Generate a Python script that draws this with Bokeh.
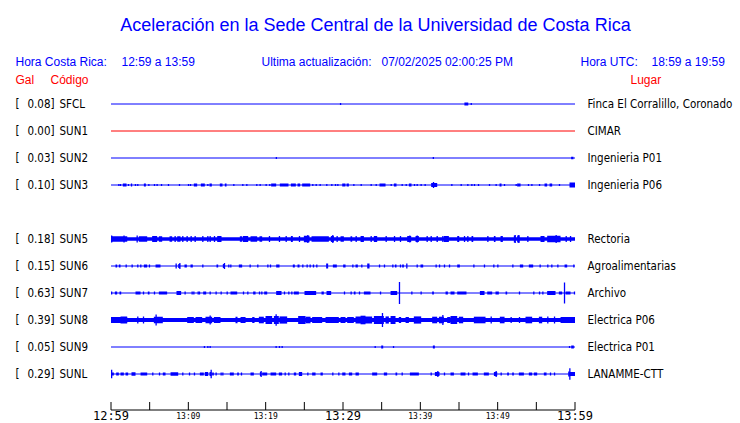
from bokeh.plotting import figure
from bokeh.models import Range1d
from bokeh.core.properties import value
from bokeh.embed import file_html
from bokeh.resources import INLINE

# ------------------------------------------------------------------ data
titulo = "Aceleración en la Sede Central de la Universidad de Costa Rica"
hora_cr = "12:59 a 13:59"
hora_utc = "18:59 a 19:59"
ultima = "07/02/2025 02:00:25 PM"

codigos = ["SFCL", "SUN1", "SUN2", "SUN3", "SUN5", "SUN6", "SUN7", "SUN8", "SUN9", "SUNL"]
slots = [0, 1, 2, 3, 5, 6, 7, 8, 9, 10]          # SUN4 slot left empty
gal = [0.08, 0.00, 0.03, 0.10, 0.18, 0.15, 0.63, 0.39, 0.05, 0.29]
lugares = ["Finca El Corralillo, Coronado", "CIMAR", "Ingenieria P01", "Ingenieria P06",
           "Rectoria", "Agroalimentarias", "Archivo", "Electrica P06", "Electrica P01",
           "LANAMME-CTT"]
colores = ["#0000FF", "#FF0000", "#0000FF", "#0000FF", "#0000FF",
           "#0000FF", "#0000FF", "#0000FF", "#0000FF", "#0000FF"]
ruido_base = [0, 0, 0, 0, 1.8, 0, 0, 2.1, 0, 0]  # background noise half-amplitude (counts)

tick_min = [0, 5, 10, 15, 20, 25, 30, 35, 40, 45, 50, 55, 60]   # minutes after 12:59
big_tick_min = [0, 30, 60]
big_tick_txt = ["12:59", "13:29", "13:59"]
small_tick_min = [10, 20, 40, 50]
small_tick_txt = ["13:09", "13:19", "13:39", "13:49"]

# bursts: (start minute, end minute, half amplitude in counts)
sfcl = [(29.6, 29.6, 1.0), (45.7, 46.2, 1.5), (46.5, 46.5, 1.0)]
sun1 = []
sun2 = [(21.3, 21.3, 1.0), (41.6, 41.6, 1.0), (59.5, 59.8, 1.2)]
sun3 = [(0.93, 0.93, 1), (1.14, 1.14, 1), (1.53, 2.01, 1.5), (2.18, 2.18, 1), (2.57, 2.74, 1.5),
        (3.08, 3.08, 1), (3.38, 3.47, 1), (4.25, 4.51, 1.5), (4.81, 4.81, 1), (5.54, 5.54, 1),
        (5.88, 5.88, 1), (6.45, 6.45, 1), (7.35, 7.35, 1), (8.77, 8.77, 1), (9.94, 9.94, 1),
        (10.2, 10.2, 1), (10.71, 11.14, 1.5), (11.62, 12.13, 1.5), (12.44, 12.44, 1),
        (12.74, 13.04, 1.5), (14.07, 14.42, 1.5), (14.72, 14.94, 1.5), (15.8, 15.8, 1),
        (16.96, 16.96, 1), (17.48, 17.48, 1), (18.77, 18.77, 1), (19.2, 19.2, 1),
        (19.98, 19.98, 1), (20.45, 20.45, 1), (20.71, 21.36, 1.5), (21.83, 22.95, 1.5),
        (23.26, 23.9, 1.5), (24.12, 24.46, 1.5), (24.72, 25.76, 1.5), (26.01, 26.01, 1),
        (26.45, 26.45, 1), (26.96, 26.96, 1), (27.82, 27.82, 1), (28.47, 28.47, 1),
        (28.95, 28.95, 1), (29.25, 29.25, 1), (29.9, 30.32, 1.5), (30.46, 30.76, 1.5),
        (31.32, 31.32, 1), (32.27, 32.27, 1), (33.56, 33.56, 1), (34.21, 34.21, 1),
        (34.72, 35.5, 1.5), (36.15, 36.15, 1), (36.58, 36.92, 1.5), (37.57, 37.57, 1),
        (38.09, 38.09, 1), (38.52, 38.86, 1.5), (39.16, 39.16, 1), (39.51, 39.51, 1),
        (40.02, 40.02, 1), (40.54, 40.54, 1), (41.4, 42.18, 2), (41.62, 41.62, 3),
        (43.99, 43.99, 1), (45.2, 45.2, 1), (46.06, 46.06, 1), (46.58, 46.58, 1),
        (46.92, 46.92, 1), (47.44, 47.44, 1), (48.86, 48.86, 1), (49.72, 49.72, 1),
        (50.24, 50.5, 1.5), (50.8, 50.8, 1), (52.31, 52.31, 1), (52.52, 52.96, 1.5),
        (53.9, 53.9, 1), (54.34, 54.34, 1), (55.33, 55.33, 1), (56.06, 56.4, 1.5),
        (56.71, 57.05, 1.5), (57.91, 57.91, 1), (59.29, 60.0, 2.5)]
sun5 = [(0.0, 0.15, 3), (0.0, 2.1, 2.8), (0.0, 0.0, 3.5), (1.6, 1.6, 3.5), (3.3, 3.3, 3.5),
        (3.6, 4.68, 2.8), (5.32, 5.97, 3), (6.19, 6.62, 2.8), (7.57, 7.91, 2.8), (8.21, 8.21, 3),
        (8.56, 8.99, 2.8), (9.2, 9.2, 3), (9.76, 9.76, 3), (10.28, 10.28, 3), (10.8, 10.8, 3),
        (11.79, 11.79, 3), (12.44, 12.44, 3), (12.74, 12.74, 3), (13.3, 13.3, 3),
        (13.73, 14.29, 3), (16.66, 16.96, 2.8), (17.05, 17.74, 3), (18.04, 18.9, 2.8),
        (19.2, 19.55, 2.8), (20.41, 20.41, 3), (21.7, 21.7, 3), (22.57, 22.57, 3),
        (23.26, 23.51, 3), (24.29, 24.29, 3), (24.94, 25.67, 3.2), (25.37, 25.37, 4),
        (25.93, 28.17, 2.8), (28.43, 28.82, 3), (28.6, 28.6, 4), (29.16, 29.16, 3),
        (29.68, 30.11, 2.8), (30.97, 31.19, 2.8), (31.62, 31.62, 3), (32.27, 32.7, 3),
        (33.56, 33.56, 3), (33.99, 34.42, 3), (35.5, 35.5, 3), (36.58, 36.58, 3),
        (37.35, 37.35, 3), (38.3, 38.82, 3), (38.56, 38.56, 3.5), (39.38, 39.81, 3),
        (39.51, 39.51, 3.5), (40.8, 40.8, 3), (41.32, 41.32, 3), (42.09, 42.27, 3),
        (42.83, 42.83, 3), (43.04, 43.69, 3), (44.77, 45.03, 3), (45.63, 45.63, 3),
        (46.06, 46.06, 3), (46.62, 46.84, 3), (48.65, 48.65, 3), (49.51, 49.72, 3),
        (50.37, 50.67, 3), (52.09, 52.31, 3.5), (52.18, 52.18, 4), (52.52, 52.83, 3.5),
        (52.65, 52.65, 4), (53.82, 53.82, 3), (55.54, 56.06, 3), (56.4, 58.13, 3.3),
        (57.48, 57.48, 4), (58.78, 58.78, 3), (59.34, 59.51, 3)]
sun6 = [(0.58, 0.8, 1.5), (1.01, 1.23, 1.5), (1.88, 1.88, 1.5), (2.65, 2.65, 1.5),
        (3.38, 3.38, 1.5), (3.77, 3.77, 1.5), (4.25, 4.68, 1.5), (4.89, 4.89, 1.5),
        (5.76, 6.4, 1.5), (8.34, 8.51, 2.5), (8.69, 8.94, 2), (8.82, 8.82, 3), (9.5, 9.81, 1.5),
        (10.28, 10.58, 1.5), (11.79, 11.79, 1.5), (13.64, 13.86, 1.5), (14.46, 14.72, 2),
        (14.59, 14.59, 3), (15.15, 15.15, 1.5), (15.41, 15.41, 1.5), (16.53, 16.96, 1.5),
        (17.91, 17.91, 1.5), (18.9, 18.9, 1.5), (20.2, 20.2, 1.5), (20.54, 20.54, 1.5),
        (21.36, 21.79, 1.5), (23.51, 23.77, 1.5), (24.12, 24.38, 1.5), (24.72, 24.72, 1.5),
        (25.28, 25.28, 1.5), (25.67, 25.67, 1.5), (26.1, 26.1, 1.5), (26.53, 26.53, 1.5),
        (27.82, 28.08, 2.5), (28.69, 29.2, 1.5), (30.02, 30.33, 1.5), (31.19, 31.19, 1.5),
        (31.62, 31.92, 1.5), (32.35, 32.35, 1.5), (33.13, 33.43, 2.5), (34.64, 34.64, 1.5),
        (35.28, 35.28, 1.5), (36.36, 36.36, 1.5), (36.71, 36.92, 1.5), (37.35, 37.35, 1.5),
        (37.65, 37.87, 1.5), (38.17, 38.17, 2.5), (39.51, 39.51, 1.5), (40.02, 40.37, 1.5),
        (41.96, 41.96, 1.5), (42.4, 42.4, 1.5), (43.04, 43.04, 1.5), (43.69, 43.69, 1.5),
        (44.77, 45.11, 1.5), (46.84, 46.84, 1.5), (48.21, 48.21, 1.5), (49.42, 49.42, 1.5),
        (49.94, 49.94, 1.5), (51.88, 51.88, 1.5), (52.87, 53.3, 1.5), (54.03, 54.59, 1.5),
        (55.41, 55.41, 1.5), (56.4, 56.4, 1.5), (56.92, 56.92, 1.5), (57.7, 57.7, 1.5),
        (58.65, 58.99, 1.5), (59.77, 59.77, 1.5)]
sun7 = [(0.0, 0.15, 1.5), (0.5, 0.8, 1.5), (1.1, 1.32, 1.5), (3.17, 3.82, 1.5), (4.12, 4.12, 1.5),
        (4.76, 4.98, 1.5), (5.54, 5.54, 1.5), (6.19, 7.26, 1.5), (8.47, 9.07, 2), (9.5, 9.5, 1.5),
        (10.41, 10.41, 1.5), (10.63, 10.63, 1.5), (11.19, 11.19, 1.5), (11.36, 11.36, 1.5),
        (11.92, 12.31, 1.5), (12.74, 12.74, 1.5), (13.51, 13.51, 1.5), (14.16, 14.16, 1.5),
        (14.94, 15.07, 1.5), (15.45, 16.32, 1.5), (17.05, 17.05, 1.5), (17.61, 17.61, 1.5),
        (18.38, 18.69, 1.5), (19.12, 19.12, 1.5), (19.42, 19.42, 1.5), (19.81, 20.2, 1.5),
        (21.36, 22.05, 2), (22.35, 22.35, 1.5), (22.91, 22.91, 1.5), (23.3, 23.3, 1.5),
        (23.64, 24.29, 1.5), (25.02, 26.53, 2), (27.22, 27.52, 1.5), (27.87, 28.47, 2),
        (30.11, 30.11, 1.5), (30.97, 30.97, 1.5), (31.4, 31.62, 1.5), (32.05, 32.05, 1.5),
        (32.7, 33.56, 1.5), (34.77, 34.77, 1.5), (36.15, 37.01, 2), (37.22, 37.22, 11),
        (38.82, 38.82, 1.5), (40.02, 40.02, 1.5), (41.53, 41.75, 1.5), (43.26, 43.56, 1.5),
        (43.9, 44.42, 1.5), (44.77, 45.97, 1.5), (47.7, 48.3, 2), (48.65, 49.29, 1.5),
        (49.72, 50.15, 1.5), (51.02, 51.23, 1.5), (52.74, 52.74, 1.5), (54.59, 54.59, 1.5),
        (55.33, 55.33, 1.5), (55.76, 55.76, 1.5), (56.4, 57.48, 2), (57.91, 58.34, 1.5),
        (58.56, 58.56, 10.5), (58.78, 59.42, 1.5), (59.85, 59.85, 1.5)]
sun8 = [(0.0, 2.09, 3), (1.23, 2.09, 3.5), (3.38, 3.38, 3.5), (4.12, 4.12, 3.5), (5.54, 6.7, 3.3),
        (5.75, 5.75, 5.5), (9.85, 10.71, 3), (10.93, 11.79, 3), (12.22, 13.08, 3.2),
        (12.74, 12.74, 4.5), (13.3, 14.16, 3), (16.1, 16.36, 3.3), (16.75, 17.4, 3),
        (18.26, 18.56, 3), (19.12, 19.76, 3.3), (19.98, 20.84, 4), (21.06, 21.7, 4),
        (21.27, 21.27, 5.7), (21.79, 22.78, 3.6), (24.2, 25.15, 4), (25.15, 25.8, 3.3),
        (26.01, 27.31, 3), (27.74, 29.46, 3), (29.68, 30.32, 3), (30.54, 31.4, 3),
        (31.62, 33.77, 3.5), (32.27, 32.91, 4.3), (33.99, 35.28, 4), (35.02, 35.02, 7),
        (35.5, 35.93, 3.6), (36.15, 36.79, 4), (37.22, 37.52, 3), (38.09, 38.52, 3),
        (39.16, 40.11, 3.6), (41.53, 42.18, 3.3), (42.4, 43.04, 3.3), (42.83, 42.83, 5),
        (43.47, 43.9, 3), (43.9, 44.77, 4), (44.98, 45.54, 3.3), (46.92, 48.43, 3.3),
        (49.08, 49.08, 3.5), (50.28, 50.89, 3.3), (51.66, 51.66, 3), (52.74, 52.74, 3),
        (53.6, 54.46, 3.3), (55.33, 55.76, 3.3), (56.4, 56.4, 3.5), (57.27, 57.27, 3.5),
        (58.13, 60.0, 3)]
sun9 = [(12.0, 12.0, 1), (12.44, 12.57, 1), (12.74, 12.74, 1), (21.27, 21.27, 1), (21.7, 21.7, 1),
        (22.05, 22.05, 1), (34.08, 34.08, 1), (34.94, 35.2, 1.5), (36.45, 36.45, 1),
        (41.62, 41.88, 1.5), (59.21, 59.21, 1), (59.51, 59.85, 1.5)]
sunl = [(0.0, 0.0, 4.3), (0.07, 0.37, 1.5), (0.67, 1.01, 1.5), (1.23, 1.66, 1.5), (1.88, 2.22, 1.5),
        (2.65, 3.17, 1.8), (3.82, 4.68, 1.5), (5.32, 5.32, 1.5), (6.19, 6.19, 1.5), (6.7, 7.05, 1.5),
        (7.7, 8.69, 1.8), (9.2, 9.2, 1.5), (10.07, 10.07, 1.5), (10.71, 10.71, 1.5),
        (11.49, 12.0, 1.5), (12.13, 12.57, 2), (12.74, 12.99, 2), (12.87, 12.87, 4.3),
        (13.08, 13.3, 1.5), (13.51, 13.51, 1.5), (14.16, 14.16, 1.5), (14.38, 14.38, 1.5),
        (15.37, 15.88, 1.5), (16.32, 16.53, 1.5), (16.79, 16.79, 1.5), (18.04, 18.47, 1.5),
        (19.25, 19.42, 2), (19.33, 19.33, 3), (19.55, 20.2, 1.5), (20.63, 21.36, 1.5),
        (21.7, 22.13, 1.5), (22.44, 22.44, 1.5), (22.91, 22.91, 1.5), (23.64, 23.95, 1.5),
        (24.29, 24.72, 2), (25.37, 25.37, 1.5), (26.01, 26.45, 1.5), (27.09, 27.39, 1.5),
        (28.6, 28.6, 1.5), (29.38, 29.38, 1.5), (29.9, 30.32, 1.5), (30.76, 31.19, 1.5),
        (31.62, 32.05, 1.5), (33.77, 34.42, 1.5), (35.28, 35.71, 1.5), (36.79, 37.01, 1.5),
        (37.57, 37.57, 1.5), (38.65, 39.81, 1.5), (41.32, 41.32, 1.5), (41.88, 42.48, 2),
        (42.18, 42.18, 3), (43.04, 43.04, 1.5), (43.9, 44.34, 1.5), (45.2, 45.84, 1.5),
        (46.15, 46.15, 1.5), (46.75, 47.44, 1.5), (48.21, 48.86, 1.5), (49.51, 49.94, 2),
        (49.72, 49.72, 3), (50.37, 50.37, 1.5), (51.23, 51.45, 1.5), (51.88, 52.09, 1.5),
        (52.74, 53.39, 1.5), (54.03, 54.46, 1.5), (54.68, 55.11, 1.5), (55.97, 56.32, 1.5),
        (56.75, 56.75, 1.5), (57.27, 57.27, 1.5), (59.12, 59.34, 2.5), (59.25, 59.25, 5.7),
        (59.34, 60.0, 2)]
rafagas = [sfcl, sun1, sun2, sun3, sun5, sun6, sun7, sun8, sun9, sunl]

# ------------------------------------------------------------------ layout
W, H = 740, 423
PX_PER_MIN = 464.0 / 60.0
LEFT_PX = 110.5        # px of minute 0
ROW0_PX = 103.5        # px of first trace
PITCH = 27.0           # px between traces
AMP = 1.0 / PITCH      # counts -> row units
MINW = 1.3 / PX_PER_MIN
T_END = 60.0
TDY = -4.5             # text baseline correction (px) for ~12px text


def sx(px):
    return (px - LEFT_PX) / PX_PER_MIN


def sy(py):
    return (py - ROW0_PX) / PITCH


p = figure(width=W, height=H,
           x_range=Range1d(sx(0), sx(W)), y_range=Range1d(sy(H), sy(0)),
           x_axis_type=None, y_axis_type=None, toolbar_location=None,
           output_backend="svg", min_border=0, outline_line_color=None,
           background_fill_color="white", border_fill_color="white")

# baselines
p.segment(x0=[0] * len(slots), x1=[T_END] * len(slots), y0=slots, y1=slots,
          line_color=colores, line_width=1)

# background noise bands and bursts
bl, br, bb, bt, bc = [], [], [], [], []
for s, b, c in zip(slots, ruido_base, colores):
    if b > 0:
        bl.append(0); br.append(T_END); bb.append(s - b * AMP); bt.append(s + b * AMP); bc.append(c)
for s, bursts, c in zip(slots, rafagas, colores):
    for t0, t1, a in bursts:
        bl.append(t0); br.append(max(t1, t0 + MINW))
        bb.append(s - a * AMP); bt.append(s + a * AMP); bc.append(c)
p.quad(left=bl, right=br, bottom=bb, top=bt, fill_color=bc, line_color=None)

# time axis drawn at bottom
AX_PY = 409.5
p.segment(x0=[0], x1=[T_END], y0=[sy(AX_PY)], y1=[sy(AX_PY)], line_color="black", line_width=1)
p.segment(x0=tick_min, x1=tick_min, y0=[sy(AX_PY)] * len(tick_min),
          y1=[sy(AX_PY - 8)] * len(tick_min), line_color="black", line_width=1)
p.text(x=big_tick_min, y=[sy(420 + TDY)] * 3, text=big_tick_txt, text_align="center",
       text_baseline="alphabetic", text_font=value("DejaVu Sans Mono"),
       text_font_size="12px", text_color="black")
p.text(x=small_tick_min, y=[sy(418 - 2.5)] * 4, text=small_tick_txt, text_align="center",
       text_baseline="alphabetic", text_font=value("DejaVu Sans Mono"),
       text_font_size="8px", text_color="black")


def txt(px, py, s, color, size, font="Liberation Sans", align="left"):
    p.text(x=[sx(px)], y=[sy(py + TDY)], text=[s], text_align=align, text_baseline="alphabetic",
           text_font=value(font), text_font_size=size, text_color=color)


BLUE, RED = "#0000FF", "#FF0000"
txt(375, 28.5, titulo, BLUE, "18px", align="center")
txt(15, 65.7, "Hora Costa Rica:", BLUE, "12px")
txt(121, 65.7, hora_cr, BLUE, "12px")
txt(261, 65.7, "Ultima actualización:", BLUE, "12px")
txt(381, 65.7, ultima, BLUE, "12px")
txt(580, 65.7, "Hora UTC:", BLUE, "12px")
txt(651, 65.7, hora_utc, BLUE, "12px")
txt(15, 84.3, "Gal", RED, "12px")
txt(50, 84.3, "Código", RED, "12px")
txt(630, 84.3, "Lugar", RED, "12px")

LBL_FONT = value("DejaVu Sans Condensed, DejaVu Sans")
ly = [s + (4.3 + TDY) / PITCH for s in slots]
n = len(slots)
p.text(x=[sx(15)] * n, y=ly, text=["["] * n, text_baseline="alphabetic",
       text_font=LBL_FONT, text_font_size="11.5px", text_color="black")
p.text(x=[sx(54)] * n, y=ly, text=["%.2f]" % g for g in gal], text_align="right",
       text_baseline="alphabetic", text_font=LBL_FONT, text_font_size="11.5px", text_color="black")
p.text(x=[sx(59)] * n, y=ly, text=codigos, text_baseline="alphabetic",
       text_font=LBL_FONT, text_font_size="11.5px", text_color="black")
p.text(x=[sx(587)] * n, y=ly, text=lugares, text_baseline="alphabetic",
       text_font=LBL_FONT, text_font_size="11.5px", text_color="black")

with open("out.html", "w", encoding="utf-8") as f:
    f.write(file_html(p, INLINE, title="Aceleración UCR"))
